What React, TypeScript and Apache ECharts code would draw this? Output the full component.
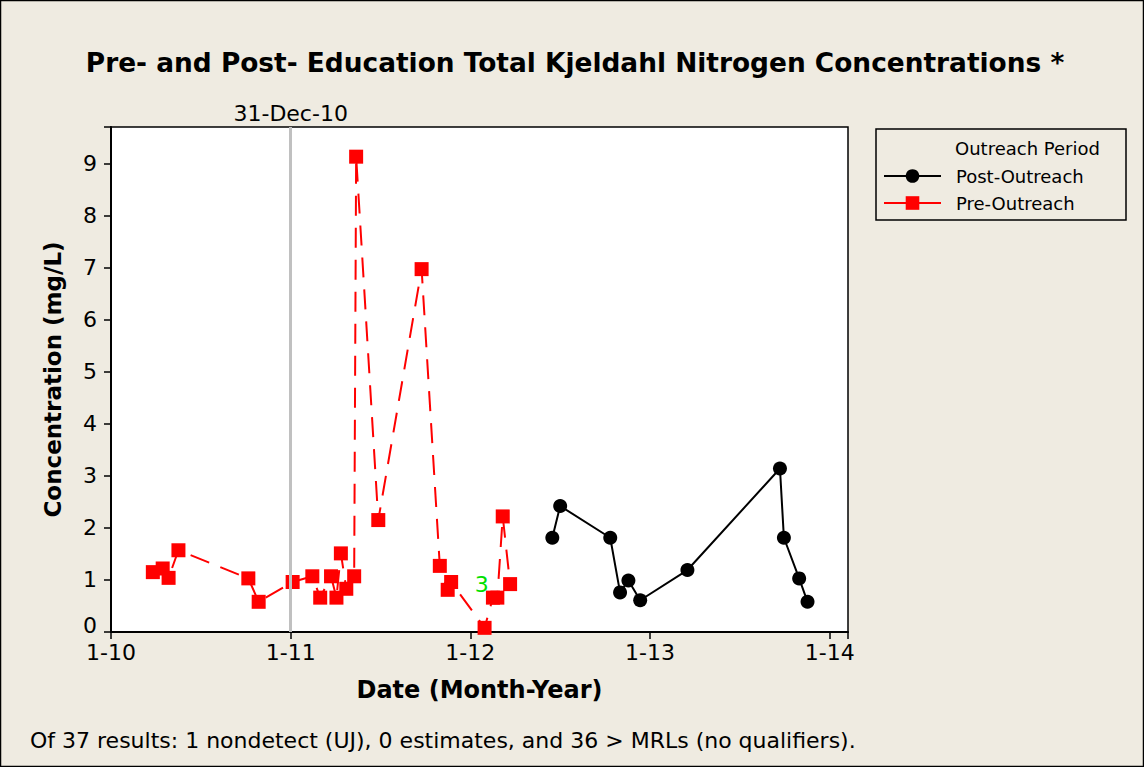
import { useEffect, useRef } from "react";
import * as echarts from "echarts";

const titleText = "Pre- and Post- Education Total Kjeldahl Nitrogen Concentrations *";
const footnoteText = "Of 37 results: 1 nondetect (UJ), 0 estimates, and 36 > MRLs (no qualifiers).";
const xAxisName = "Date (Month-Year)";
const yAxisName = "Concentration (mg/L)";
const legendTitle = "Outreach Period";
const seriesNames = ["Post-Outreach", "Pre-Outreach"];

const preDates = [
  "2010-03-27", "2010-04-16", "2010-04-28", "2010-05-18", "2010-10-07", "2010-10-28",
  "2011-01-05", "2011-02-14", "2011-03-02", "2011-03-24", "2011-04-04", "2011-04-13",
  "2011-04-24", "2011-05-10", "2011-05-14", "2011-06-28", "2011-09-24", "2011-10-31",
  "2011-11-16", "2011-11-23", "2012-01-30", "2012-02-16", "2012-02-25", "2012-03-07",
  "2012-03-22",
];
const preValues = [
  1.15, 1.22, 1.04, 1.57, 1.03, 0.58,
  0.96, 1.07, 0.66, 1.07, 0.66, 1.51,
  0.83, 1.07, 9.13, 2.15, 6.97, 1.27,
  0.81, 0.96, 0.08, 0.66, 0.66, 2.22,
  0.92,
];
const postDates = [
  "2012-06-16", "2012-07-02", "2012-10-12", "2012-11-01", "2012-11-18", "2012-12-12",
  "2013-03-18", "2013-09-22", "2013-09-30", "2013-10-31", "2013-11-17",
];
const postValues = [1.81, 2.42, 1.81, 0.76, 0.99, 0.61, 1.19, 3.14, 1.81, 1.03, 0.58];

const dividerDate = "2010-12-31";
const dividerLabel = "31-Dec-10";
const nondetectMark = { date: "2012-01-24", value: 0.92, text: "3" };

const xMinYear = 2010;
const xMaxYear = 2014.102;
const yMin = 0;
const yMax = 9.7;

const FONT = "DejaVu Sans";

function decimalYear(s: string): number {
  const d = new Date(s + "T00:00:00Z");
  const y = d.getUTCFullYear();
  const start = Date.UTC(y, 0, 1);
  const end = Date.UTC(y + 1, 0, 1);
  return y + (d.getTime() - start) / (end - start);
}

export default function App() {
  const ref = useRef<HTMLDivElement>(null);
  useEffect(() => {
    if (!ref.current) return;
    const chart = echarts.init(ref.current, null, { renderer: "svg" });
    const preData = preDates.map((d, i) => [decimalYear(d), preValues[i]]);
    const postData = postDates.map((d, i) => [decimalYear(d), postValues[i]]);
    chart.setOption({
      animation: false,
      backgroundColor: "#efebe1",
      textStyle: { fontFamily: FONT },
      grid: {
        left: 111,
        right: 296,
        top: 127,
        bottom: 135,
        show: true,
        backgroundColor: "#ffffff",
        borderColor: "#000000",
        borderWidth: 1.5,
      },
      xAxis: {
        type: "value",
        min: xMinYear,
        max: xMaxYear,
        interval: 1,
        name: xAxisName,
        nameLocation: "middle",
        nameGap: 46,
        nameTextStyle: { fontFamily: FONT, fontWeight: "bold", fontSize: 24, color: "#000" },
        axisLine: { show: true, lineStyle: { color: "#000", width: 2 } },
        axisTick: { show: true, length: 7, lineStyle: { color: "#000", width: 1.5 } },
        axisLabel: {
          fontFamily: FONT,
          fontSize: 22,
          color: "#000",
          margin: 9,
          formatter: (v: number) => (Math.abs(v - Math.round(v)) < 1e-6 ? "1-" + String(Math.round(v)).slice(2) : ""),
        },
        splitLine: { show: false },
      },
      yAxis: {
        type: "value",
        min: yMin,
        max: yMax,
        interval: 1,
        name: yAxisName,
        nameLocation: "middle",
        nameGap: 47,
        nameTextStyle: { fontFamily: FONT, fontWeight: "bold", fontSize: 23, color: "#000" },
        axisLine: { show: true, lineStyle: { color: "#000", width: 2 } },
        axisTick: { show: true, length: 7, lineStyle: { color: "#000", width: 1.5 } },
        axisLabel: {
          fontFamily: FONT,
          fontSize: 22,
          color: "#000",
          margin: 14,
          formatter: (v: number) => {
            if (Math.abs(v - Math.round(v)) > 1e-6) return "";
            const r = Math.round(v);
            return r === 0 ? "{zero|0}" : String(r);
          },
          rich: { zero: { fontFamily: FONT, fontSize: 22, color: "#000", padding: [0, 0, 14, 0] } },
        },
        splitLine: { show: false },
      },
      legend: {
        orient: "vertical",
        left: 883,
        top: 167,
        padding: 0,
        itemWidth: 57,
        itemHeight: 17,
        itemGap: 9,
        textStyle: { fontFamily: FONT, fontSize: 18, color: "#000", padding: [0, 0, 0, 10] },
        data: [
          { name: seriesNames[0], lineStyle: { type: "solid" } },
          { name: seriesNames[1], lineStyle: { type: "solid" } },
        ],
      },
      graphic: [
        {
          type: "rect",
          shape: { x: 876, y: 129, width: 250, height: 91 },
          style: { fill: "none", stroke: "#000", lineWidth: 1.5 },
        },
        {
          type: "text",
          x: 955,
          y: 148,
          style: { text: legendTitle, font: `18px '${FONT}'`, fill: "#000", textVerticalAlign: "middle" },
        },
        {
          type: "text",
          x: 575,
          y: 62,
          style: { text: titleText, font: `bold 26.4px '${FONT}'`, fill: "#000", textAlign: "center", textVerticalAlign: "middle" },
        },
        {
          type: "text",
          x: 30,
          y: 740,
          style: { text: footnoteText, font: `22px '${FONT}'`, fill: "#000", textVerticalAlign: "middle" },
        },
        {
          type: "rect",
          shape: { x: 0.5, y: 0.5, width: 1143, height: 766 },
          style: { fill: "none", stroke: "#000", lineWidth: 1.5 },
        },
      ],
      series: [
        {
          name: "divider",
          type: "line",
          data: [],
          z: 1,
          markLine: {
            silent: true,
            symbol: "none",
            lineStyle: { color: "#c0c0c0", width: 3, type: "solid" },
            label: { show: true, position: "end", formatter: dividerLabel, color: "#000", fontFamily: FONT, fontSize: 22, distance: 3 },
            data: [{ xAxis: decimalYear(dividerDate) }],
          },
        },
        {
          name: seriesNames[0],
          type: "line",
          z: 3,
          data: postData,
          symbol: "circle",
          symbolSize: 14,
          itemStyle: { color: "#000" },
          lineStyle: { color: "#000", width: 2 },
        },
        {
          name: seriesNames[1],
          type: "line",
          z: 4,
          data: preData,
          symbol: "rect",
          symbolSize: 14,
          itemStyle: { color: "#ff0000" },
          lineStyle: { color: "#ff0000", width: 2, type: [20, 12] },
          markPoint: {
            symbol: "circle",
            symbolSize: 1,
            itemStyle: { color: "rgba(0,0,0,0)" },
            label: { show: true, position: "inside", formatter: nondetectMark.text, color: "#00e000", fontFamily: FONT, fontSize: 22 },
            data: [{ coord: [decimalYear(nondetectMark.date), nondetectMark.value] }],
          },
        },
      ],
    });
    return () => chart.dispose();
  }, []);
  return <div ref={ref} style={{ position: "fixed", left: 0, top: 0, width: 1144, height: 767 }} />;
}
